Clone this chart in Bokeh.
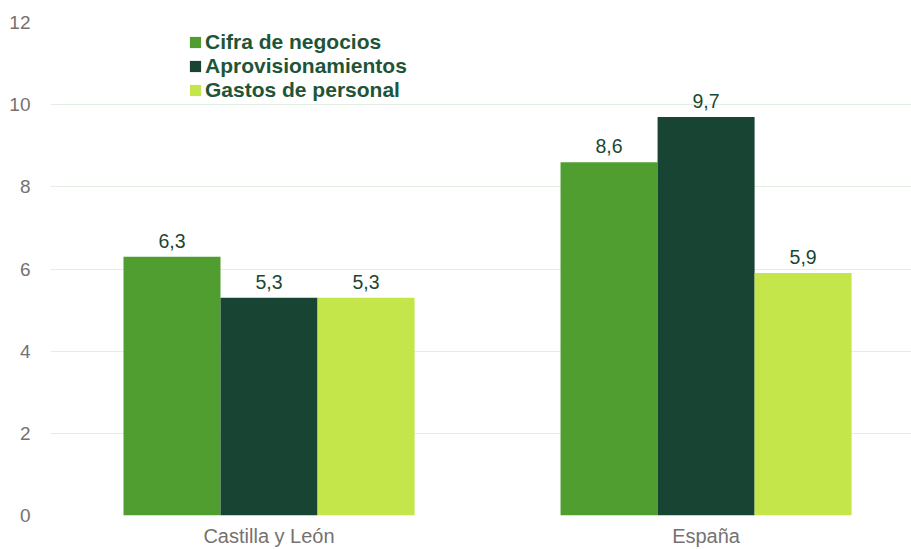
from bokeh.plotting import figure
from bokeh.models import ColumnDataSource, Range1d, FixedTicker, Legend, LegendItem
from bokeh.core.properties import value
from bokeh.embed import file_html
from bokeh.resources import INLINE

categories = ["Castilla y León", "España"]
series_names = ["Cifra de negocios", "Aprovisionamientos", "Gastos de personal"]
cifra = [6.3, 8.6]
aprov = [5.3, 9.7]
gastos = [5.3, 5.9]
y_ticks = [0, 2, 4, 6, 8, 10, 12]

colors = ["#4f9e2f", "#184533", "#c5e64a"]
series_vals = [cifra, aprov, gastos]
offsets = [-0.222, 0.0, 0.222]
bar_w = 0.222

p = figure(width=911, height=549, output_backend="svg", toolbar_location=None,
           x_range=Range1d(0, 1.97), y_range=Range1d(0, 12),
           min_border_left=50, min_border_top=22, min_border_right=0, min_border_bottom=34)
p.outline_line_color = None
p.background_fill_color = "white"
p.border_fill_color = "white"

centers = [i + 0.5 for i in range(len(categories))]
items = []
for name, vals, off, col in zip(series_names, series_vals, offsets, colors):
    src = ColumnDataSource(dict(
        x=[c + off for c in centers],
        top=vals,
        lab=[f"{v:.1f}".replace(".", ",") for v in vals],
    ))
    r = p.vbar(x="x", top="top", width=bar_w, bottom=0, source=src,
               fill_color=col, line_color=None)
    p.text(x="x", y="top", text="lab", source=src, text_align="center",
           text_baseline="alphabetic", y_offset=-16, text_color="#1b4733",
           text_font=value("Liberation Sans"), text_font_size="19.5px")
    items.append(LegendItem(label=name, renderers=[r]))

legend = Legend(items=items, location=(138, 413), padding=0, margin=0,
                spacing=0, glyph_width=14, glyph_height=14, label_height=24,
                label_standoff=3, label_text_font="Liberation Sans",
                label_text_font_style="bold", label_text_font_size="21px",
                label_text_color="#1e5538", border_line_color=None,
                background_fill_alpha=0)
p.add_layout(legend, "center")

p.xaxis.ticker = FixedTicker(ticks=centers)
p.xaxis.major_label_overrides = {c: cat for c, cat in zip(centers, categories)}
p.yaxis.ticker = FixedTicker(ticks=y_ticks)
for ax in (p.xaxis, p.yaxis):
    ax.axis_line_color = None
    ax.major_tick_line_color = None
    ax.minor_tick_line_color = None
    ax.major_label_text_color = "#767171"
    ax.major_label_text_font = "Liberation Sans"
p.xaxis.major_label_text_font_size = "20px"
p.yaxis.major_label_text_font_size = "19px"
p.xaxis.major_label_standoff = 3
p.yaxis.major_label_standoff = 14
p.xgrid.grid_line_color = None
p.ygrid.grid_line_color = "#e2efe2"
p.ygrid.grid_line_width = 1

open("out.html", "w").write(file_html(p, INLINE))
